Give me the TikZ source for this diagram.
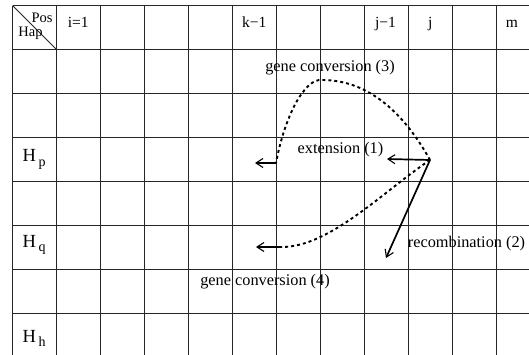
\documentclass[tikz,border=0pt]{standalone}
\usepackage{fontspec}
\setmainfont{Liberation Serif}
\usetikzlibrary{arrows.meta}
\begin{document}
\begin{tikzpicture}[x=1pt,y=-1pt,
  gridline/.style={line width=0.9pt, black!85},
  lbl/.style={font=\fontsize{16.3}{16}\selectfont, inner sep=0pt, anchor=base},
  hdr/.style={font=\fontsize{15.5}{15}\selectfont, inner sep=0pt, anchor=base},
  corner/.style={font=\fontsize{14.5}{14}\selectfont, inner sep=0pt, anchor=base},
  hap/.style={font=\fontsize{18.5}{18}\selectfont, inner sep=0pt, anchor=base west},
  arr/.style={line width=1.7pt, -{Straight Barb[length=7pt,width=9pt,line width=1.1pt]}},
  dotc/.style={line width=1.9pt, dash pattern=on 3pt off 3pt},
]
\useasboundingbox (0,0) rectangle (529,355);
\fill[white] (0,0) rectangle (529,355);
% grid
\foreach \k in {0,...,11} \draw[gridline] ({12.7+44*\k},5.7) -- ({12.7+44*\k},355);
\foreach \k in {0,...,7} \draw[gridline] (12.7,{5.7+44*\k}) -- (529,{5.7+44*\k});
\draw[gridline] (12.7,5.7) -- (56.7,49.7);
% corner labels
\node[corner] (pos) at (42,23) {Pos};
\node[corner] (hapl) at (30.5,37) {Hap};
% header labels
\node[hdr] (i1) at (78.3,28) {i=1};
\node[hdr] (k1) at (254.3,28) {k−1};
\node[hdr] (j1) at (385.5,28) {j−1};
\node[hdr] (jj) at (430.3,28) {j};
\node[hdr] (mm) at (512,28) {m};
% row labels
\node[hap] (hp) at (22.5,162) {H\kern2.5pt\raisebox{-4.5pt}{\fontsize{14}{14}\selectfont p}};
\node[hap] (hq) at (22.5,247) {H\kern2.5pt\raisebox{-4.5pt}{\fontsize{14}{14}\selectfont q}};
\node[hap] (hh) at (22.5,342) {H\kern2.5pt\raisebox{-4.5pt}{\fontsize{14}{14}\selectfont h}};
% coordinates
\coordinate (P) at (430,160);
\coordinate (ext) at (387,159);
\coordinate (rec) at (386,258);
\coordinate (peak) at (322,80);
\coordinate (g3) at (276,163);
\coordinate (g3t) at (255,163);
\coordinate (g4) at (282,247);
\coordinate (g4t) at (256,247);
% arrows
\draw[arr] (P) -- (ext);
\draw[arr] (P) -- (rec);
\draw[dotc] (P) .. controls (405,115) and (370,80) .. (peak)
  .. controls (305,78) and (285,115) .. (g3);
\draw[arr] (g3) -- (g3t);
\draw[dotc] (P) .. controls (385,190) and (330,247) .. (g4);
\draw[arr] (g4) -- (g4t);
% labels
\node[lbl] (t3) at (330,72) {gene conversion (3)};
\node[lbl] (t1) at (340.5,154) {extension (1)};
\node[lbl] (t2) at (466.5,247) {recombination (2)};
\node[lbl] (t4) at (265,285) {gene conversion (4)};
\end{tikzpicture}
\end{document}
